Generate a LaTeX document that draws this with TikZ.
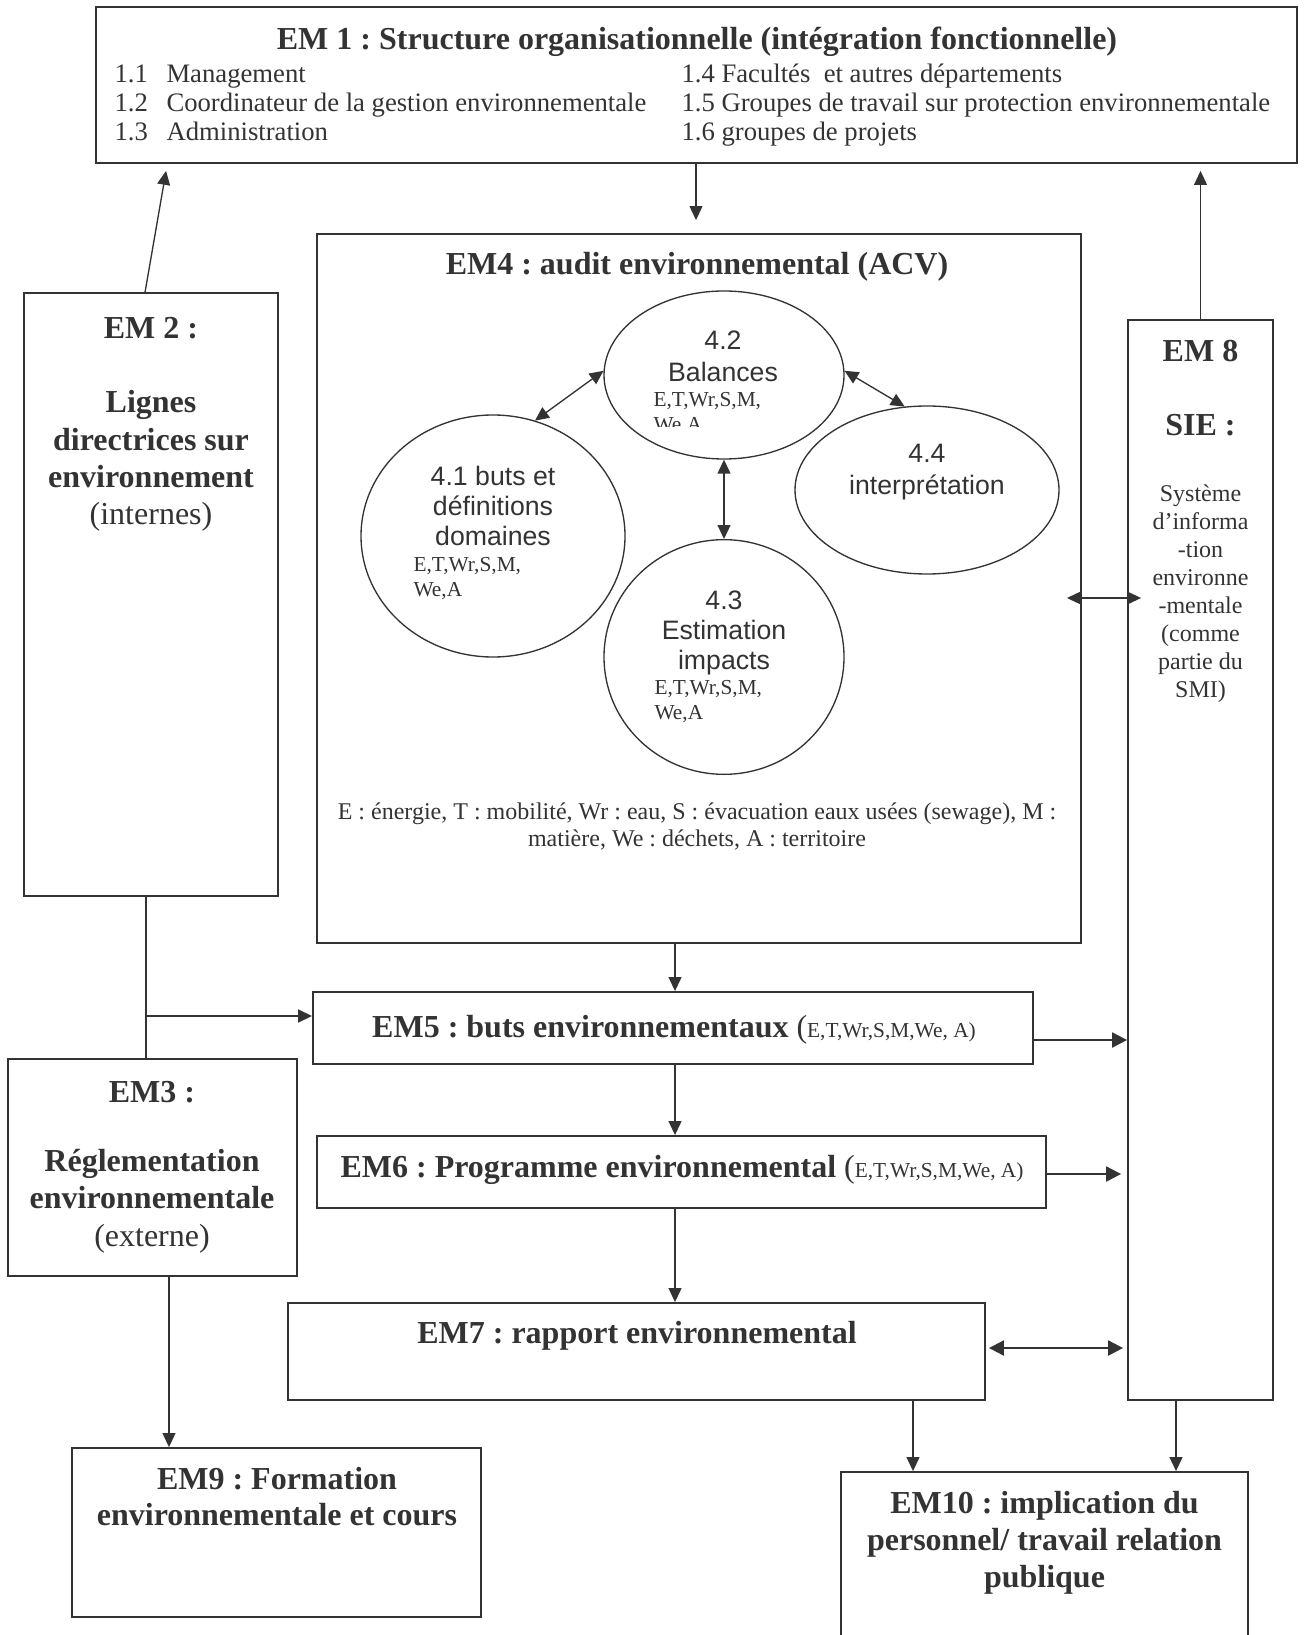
\documentclass[tikz,border=0pt]{standalone}
\usepackage{fontspec}
\setmainfont{Liberation Serif}
\newfontfamily\arialf{Liberation Sans}
\usetikzlibrary{shapes.geometric,arrows.meta,calc,fit}
\definecolor{ink}{HTML}{333333}
\begin{document}
\frenchspacing
\begin{tikzpicture}[x=0.375pt,y=-0.375pt,
  box/.style={draw=ink, line width=0.7pt, inner sep=0pt, rectangle},
  ell/.style={ellipse, draw=ink, line width=0.5pt, inner sep=0pt},
  ln/.style={draw=ink, line width=0.5pt},
  arr/.style={draw=ink, line width=0.5pt, -{Triangle[length=5.2pt,width=4.8pt]}},
  darr/.style={draw=ink, line width=0.5pt, {Triangle[length=5.2pt,width=4.8pt]}-{Triangle[length=5.2pt,width=4.8pt]}},
  tharr/.style={draw=ink, line width=0.8pt, -{Triangle[length=5.6pt,width=5.6pt]}},
  thdarr/.style={draw=ink, line width=0.8pt, {Triangle[length=5.6pt,width=5.6pt]}-{Triangle[length=5.6pt,width=5.6pt]}},
  bt/.style={text=ink, inner sep=0pt, align=center, anchor=base, font=\fontsize{12}{14}\selectfont\bfseries},
  item/.style={text=ink, inner sep=0pt, align=left, anchor=base west, font=\fontsize{10}{10.9}\selectfont},
  ar/.style={text=ink, inner sep=0pt, align=center, anchor=base, font=\arialf\fontsize{10}{11.3}\selectfont},
  sm/.style={text=ink, inner sep=0pt, align=left, anchor=base west, font=\fontsize{8}{9.2}\selectfont},
]
\useasboundingbox (0,0) rectangle (1304,1635);
\fill[white] (0,0) rectangle (1304,1635);
\clip (0,0) rectangle (1304,1635);

% ---------- boxes ----------
\node[box, fit={(96,7) (1297,163)}] (em1) {};
\node[box, fit={(24,293) (278,896)}] (em2) {};
\node[box, fit={(8,1059) (297,1276)}] (em3) {};
\node[box, fit={(317,234) (1081,943)}] (em4) {};
\node[box, fit={(313,992) (1033,1064)}] (em5) {};
\node[box, fit={(317,1136) (1046,1208)}] (em6) {};
\node[box, fit={(288,1303) (985,1400)}] (em7) {};
\node[box, fit={(1128,320) (1273,1400)}] (em8) {};
\node[box, fit={(72,1448) (481,1617)}] (em9) {};
\node[box, fit={(841,1472) (1248,1700)}] (em10) {};

% ---------- ellipses ----------
\node[ell, minimum width=90pt, minimum height=63pt] (e42) at (724,375) {};
\node[ell, minimum width=99pt, minimum height=90.75pt] (e41) at (493,536) {};
\node[ell, minimum width=99pt, minimum height=63pt] (e44) at (927,490) {};
\node[ell, minimum width=90pt, minimum height=88pt] (e43) at (724,657) {};

% ---------- texts (multi-line nodes: anchor = baseline of last line) ----------
\node[bt] (t1) at (697,50) {EM 1 : Structure organisationnelle (intégration fonctionnelle)};
\node[item] (t1a) at (114,141) {\makebox[19.5pt][l]{1.1}Management\\\makebox[19.5pt][l]{1.2}Coordinateur de la gestion environnementale\\\makebox[19.5pt][l]{1.3}Administration};
\node[item] (t1b) at (681,141) {1.4 Facultés\ \ et autres départements\\1.5 Groupes de travail sur protection environnementale\\1.6 groupes de projets};

\node[bt] (t2) at (151,524.7) {EM 2 :\\[14pt]Lignes\\directrices sur\\environnement\\{\mdseries (internes)}};
\node[bt] (t3) at (152,1246) {EM3 :\\[12pt]Réglementation\\environnementale\\{\mdseries (externe)}};
\node[bt] (t4) at (697,275) {EM4 : audit environnemental (ACV)};
\node[bt] (t5) at (674,1037) {EM5 : buts environnementaux {\mdseries(\fontsize{8}{9}\selectfont E,T,Wr,S,M,We, A)}};
\node[bt] (t6) at (682,1177) {EM6 : Programme environnemental {\mdseries(\fontsize{8}{9}\selectfont E,T,Wr,S,M,We, A)}};
\node[bt] (t7) at (637,1343) {EM7 : rapport environnemental};
\node[bt] (t8) at (1200.5,435.7) {EM 8\\[14pt]SIE :};
\node[text=ink, inner sep=0pt, align=center, anchor=base, font=\fontsize{9}{10.5}\selectfont] (t8b) at (1200.5,697) {Système\\d’informa\\-tion\\environne\\-mentale\\(comme\\partie du\\SMI)};
\node[bt, font=\fontsize{12}{13.5}\selectfont\bfseries] (t9) at (277,1525) {EM9 : Formation\\environnementale et cours};
\node[bt] (t10) at (1044.5,1587.7) {EM10 : implication du\\personnel/ travail relation\\publique};

\node[ar] (t41) at (493,545.8) {4.1 buts et\\définitions\\domaines};
\node[sm] (s41) at (413,596.5) {E,T,Wr,S,M,\\We,A};
\node[ar, font=\arialf\fontsize{10}{12}\selectfont] (t42) at (723,381.5) {4.2\\Balances};
\begin{scope}
\clip (600,300) rectangle (850,427);
\node[sm] (s42) at (653,431.5) {E,T,Wr,S,M,\\We,A};
\end{scope}
\node[ar] (t43) at (724,669.8) {4.3\\Estimation\\impacts};
\node[sm, font=\fontsize{8}{9.7}\selectfont] (s43) at (654,719.9) {E,T,Wr,S,M,\\We,A};
\node[ar, font=\arialf\fontsize{10}{12}\selectfont] (t44) at (927,494.5) {4.4\\interprétation};

\node[text=ink, inner sep=0pt, align=center, anchor=base, font=\fontsize{9}{10.1}\selectfont] (fn) at (697,846.4) {E : énergie, T : mobilité, Wr : eau, S : évacuation eaux usées (sewage), M :\\matière, We : déchets, A : territoire};

% ---------- helper coordinates ----------
\coordinate (a1s) at ($(em2.north west)+(122,0)$);
\coordinate (a1e) at ($(em1.south west)+(71,7)$);
\coordinate (a2e) at ($(em4.north)+(-3,-13)$);
\coordinate (a3e) at (em8.north |- em1.south);
\coordinate (a5s) at ($(em4.east)+(-15,9.5)$);
\coordinate (vx) at (675,0);
\coordinate (lx) at (146,0);
\coordinate (br) at (146,1016);
\coordinate (x9) at (169,0);
\coordinate (c5) at ($(em5.east)+(0,12)$);
\coordinate (c6) at ($(em6.east)+(0,2)$);
\coordinate (c7) at ($(em7.east)+(3,-3.5)$);
\coordinate (x10a) at (913,0);
\coordinate (x10b) at (1176,0);

% ---------- connectors ----------
\draw[arr] (a1s) -- (a1e);
\draw[arr] (em1.south -| a2e) -- (a2e);
\draw[arr] (em8.north) -- ($(a3e)+(0,7)$);
\draw[darr] (e41.70) -- (e42.178);
\draw[darr] (e42.2) -- (e44.105);
\draw[darr] (e42.south) -- (e43.north);
\draw[darr] (a5s) -- ($(a5s -| em8.west)+(14,0)$);
\draw[arr] (em4.south -| vx) -- (em5.north -| vx);
\draw[arr] (em5.south -| vx) -- (em6.north -| vx);
\draw[arr] (em6.south -| vx) -- (em7.north -| vx);
\draw[ln] (em2.south -| lx) -- (em3.north -| lx);
\draw[arr, line width=0.7pt] (br) -- (br -| em5.west);
\draw[arr] (em3.south -| x9) -- (em9.north -| x9);
\draw[tharr] (c5) -- (c5 -| em8.west);
\draw[tharr] (c6) -- ($(c6 -| em8.west)+(-6,0)$);
\draw[thdarr] (c7) -- ($(c7 -| em8.west)+(-4,0)$);
\draw[arr] (em7.south -| x10a) -- (em10.north -| x10a);
\draw[arr] (em8.south -| x10b) -- (em10.north -| x10b);
\end{tikzpicture}
\end{document}
